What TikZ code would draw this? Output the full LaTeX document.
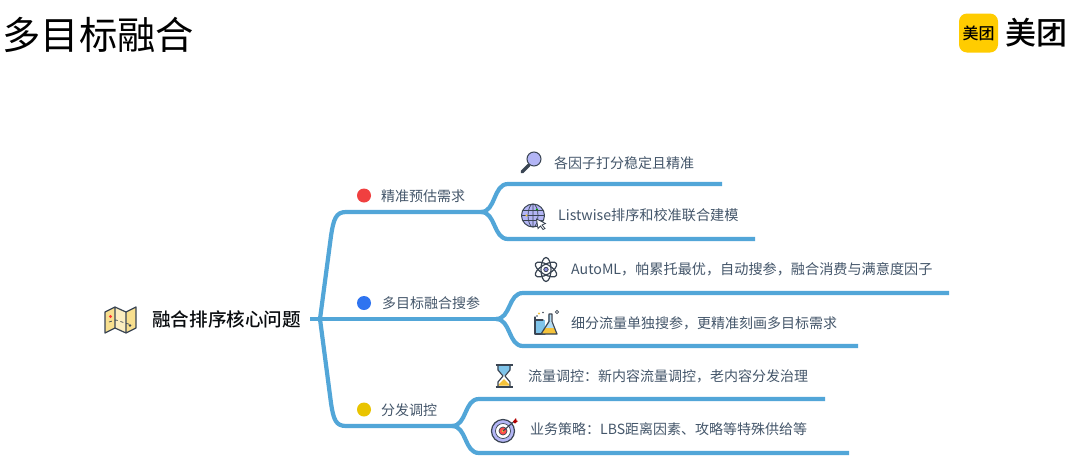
\documentclass[tikz,border=0pt]{standalone}
\usepackage{fontspec}
\setmainfont{Noto Sans CJK SC}
\newfontfamily\medfont{Noto Sans CJK SC Medium}
\definecolor{branch}{HTML}{52A6D8}
\definecolor{ink}{HTML}{44566A}
\definecolor{iconline}{HTML}{3A4553}
\definecolor{lav}{HTML}{B3B5F5}
\definecolor{lavd}{HTML}{8F8FE0}
\definecolor{sand}{HTML}{F8DF8E}
\definecolor{sky}{HTML}{7FC4EA}
\definecolor{gold}{HTML}{F5C33B}
\definecolor{logoy}{HTML}{FFCC00}
\definecolor{dotred}{HTML}{F04040}
\definecolor{dotblue}{HTML}{2F74F0}
\definecolor{dotyellow}{HTML}{E9C400}
\tikzset{
  wire/.style={draw=branch,line width=4.2pt,line join=round},
  leaf/.style={font=\fontsize{14}{16}\selectfont,text=ink,anchor=west,inner sep=0pt},
  wideleaf/.style={font=\fontsize{14.15}{16}\selectfont,text=ink,anchor=west,inner sep=0pt},
  head/.style={font=\fontsize{14}{16}\selectfont,text=ink,anchor=west,inner sep=0pt},
  bullet/.style={circle,minimum size=14pt,inner sep=0pt},
  ic/.style={draw=iconline,line width=1.2pt,line join=round,line cap=round},
}
\begin{document}
\begin{tikzpicture}[x=1pt,y=-1pt]
\useasboundingbox[fill=white] (0,0) rectangle (1080,472);
% title and logo
\node[anchor=west,inner sep=0pt,text=black] (title) at (2.5,35) {\fontsize{38.3}{44}\selectfont 多目标融合};
\node[fill=logoy,rounded corners=8pt,minimum width=39pt,minimum height=39pt,inner sep=0pt,text=black] (logomark) at (978.5,33) {\fontsize{16}{18}\selectfont\medfont 美团};
\node[anchor=west,inner sep=0pt,text=black] (logotext) at (1005,33) {\fontsize{31}{34}\selectfont\medfont 美团};
% junctions
\coordinate (rootend) at (310,319);
\coordinate (fork) at (320,319);
\coordinate (bendA) at (331,236);
\coordinate (bendC) at (331,403);
\coordinate (cornerA) at (346,212);
\coordinate (cornerC) at (346,426);
\coordinate (forkA) at (481,212);
\coordinate (forkB) at (496,319);
\coordinate (forkC) at (452,426);
\coordinate (a1s) at (508,184); \coordinate (a1) at (722,184);
\coordinate (a2s) at (508,239); \coordinate (a2) at (755,239);
\coordinate (b1s) at (523,293); \coordinate (b1) at (949,293);
\coordinate (b2s) at (523,346); \coordinate (b2) at (858,346);
\coordinate (c1s) at (479,399); \coordinate (c1) at (825,399);
\coordinate (c2s) at (479,453); \coordinate (c2) at (849,453);
% connectors
\draw[wire] (rootend) -- (forkB);
\draw[wire] (fork) -- (bendA) .. controls +(2.5,-17) and +(-10,0) .. (cornerA) -- (forkA);
\draw[wire] (fork) -- (bendC) .. controls +(2.5,17) and +(-10,0) .. (cornerC) -- (forkC);
\draw[wire] (forkA) .. controls +(15,0) and +(-15,0) .. (a1s) -- (a1);
\draw[wire] (forkA) .. controls +(15,0) and +(-15,0) .. (a2s) -- (a2);
\draw[wire] (forkB) .. controls +(15,0) and +(-15,0) .. (b1s) -- (b1);
\draw[wire] (forkB) .. controls +(15,0) and +(-15,0) .. (b2s) -- (b2);
\draw[wire] (forkC) .. controls +(15,0) and +(-15,0) .. (c1s) -- (c1);
\draw[wire] (forkC) .. controls +(15,0) and +(-15,0) .. (c2s) -- (c2);
% labels
\node[anchor=west,inner sep=0pt,text=black!85!ink] (root) at (152,319.5) {\fontsize{18.6}{22}\selectfont\medfont 融合排序核心问题};
\node[bullet,fill=dotred] (dotA) at (364,195.5) {};
\node[bullet,fill=dotblue] (dotB) at (364,303) {};
\node[bullet,fill=dotyellow] (dotC) at (364,409.5) {};
\node[head] (headA) at (381,196) {精准预估需求};
\node[head] (headB) at (382,303) {多目标融合搜参};
\node[head] (headC) at (381,410) {分发调控};
\node[leaf] (ta1) at (554,163) {各因子打分稳定且精准};
\node[wideleaf] (ta2) at (558,215.5) {Listwise排序和校准联合建模};
\node[wideleaf] (tb1) at (571,269.5) {AutoML，帕累托最优，自动搜参，融合消费与满意度因子};
\node[leaf] (tb2) at (571,323) {细分流量单独搜参，更精准刻画多目标需求};
\node[leaf] (tc1) at (528,376) {流量调控：新内容流量调控，老内容分发治理};
\node[leaf] (tc2) at (530,429.5) {业务策略：LBS距离因素、攻略等特殊供给等};
% map icon
\begin{scope}[shift={(105,307)}]
\fill[sand] (0,5) -- (10,0) -- (21,5) -- (31,0) -- (31,21) -- (21,26) -- (10,21) -- (0,26) -- cycle;
\fill[white,opacity=.45] (10,0) -- (21,5) -- (21,26) -- (10,21) -- cycle;
\draw[ic] (0,5) -- (10,0) -- (21,5) -- (31,0) -- (31,21) -- (21,26) -- (10,21) -- (0,26) -- cycle (10,0) -- (10,21) (21,5) -- (21,26);
\draw[iconline,line width=.7pt,dashed] (4,15) -- (11,13) -- (20,16) -- (27,18);
\fill[red!80!white] (5.5,9.5) circle (1.6);
\fill[iconline] (25,18.5) circle (1.3);
\end{scope}
% magnifier icon
\begin{scope}[shift={(520,152)}]
\draw[iconline,line width=3.2pt,line cap=round] (2,20) -- (9,13);
\fill[lav] (14,7) circle (7);
\draw[iconline,line width=1pt] (14,7) circle (7);
\end{scope}
% globe icon
\begin{scope}[shift={(533,215.5)}]
\fill[lav] (0,0) circle (11.5);
\draw[ic,line width=1pt] (0,0) circle (11.5);
\draw[iconline,line width=.7pt] (0,0) ellipse (5 and 11.5) (0,-11.5) -- (0,11.5) (-11.5,0) -- (11.5,0) (-10,-5) -- (10,-5) (-10,5) -- (10,5);
\fill[green!60!black] (4,-6) circle (1.2);
\fill[gold] (-6.5,0) circle (1.2);
\fill[white,draw=iconline,line width=.8pt] (3.5,3.5) -- (12.5,8) -- (9,9.5) -- (12,13) -- (10,14) -- (7.5,10.5) -- (5,13) -- cycle;
\end{scope}
% atom icon
\begin{scope}[shift={(546,269.5)}]
\draw[ic] (0,0) ellipse (5 and 12);
\draw[ic,rotate=60] (0,0) ellipse (5 and 12);
\draw[ic,rotate=-60] (0,0) ellipse (5 and 12);
\fill[lavd,draw=iconline,line width=.8pt] (0,0) circle (2.2);
\end{scope}
% flask icon
\begin{scope}[shift={(535,311)}]
\fill[sky] (0,9) rectangle (10,23);
\draw[ic] (0,6) -- (0,23) -- (10,23) (0,9) -- (8,9);
\fill[sky!60!white] (13,4) -- (13,11) -- (6,23) -- (22,23) -- (16,11) -- (16,4) -- cycle;
\fill[gold] (9.5,17) -- (19,17) -- (22,23) -- (6,23) -- cycle;
\draw[ic] (14,3) -- (14,10.5) -- (6,23) -- (22,23) -- (17,10.5) -- (17,3) -- cycle;
\fill[gold] (4,2.5) circle (1.2);
\fill[iconline] (2,5) circle (.9);
\fill[iconline] (8,1.5) circle (.9);
\draw[iconline,line width=.6pt] (22,1) circle (1.6);
\end{scope}
% hourglass icon
\begin{scope}[shift={(495,364)}]
\fill[sky] (2.5,2) -- (15.5,2) -- (15.5,5) -- (9,12) -- (2.5,5) -- cycle;
\fill[gold] (9,15) -- (15.5,21.5) -- (2.5,21.5) -- cycle;
\draw[ic] (3,2) -- (3,6) -- (8,12) -- (3,18) -- (3,22) (15,2) -- (15,6) -- (10,12) -- (15,18) -- (15,22);
\draw[iconline,line width=2.2pt] (0.5,1) -- (17.5,1) (0.5,23) -- (17.5,23);
\end{scope}
% target icon
\begin{scope}[shift={(503,431)}]
\fill[lav,draw=iconline,line width=1.2pt] (0,0) circle (11.5);
\fill[white,draw=iconline,line width=.7pt] (0,0) circle (7.5);
\fill[red!70!white,draw=iconline,line width=.7pt] (0,0) circle (4);
\fill[gold] (0,0) circle (1.3);
\draw[iconline,line width=1.1pt] (0,0) -- (11,-9.5);
\fill[red!70!black] (10,-9.5) -- (13,-13) -- (13.5,-10.5) -- (15,-10) -- (12,-7.5) -- cycle;
\end{scope}
\end{tikzpicture}
\end{document}
